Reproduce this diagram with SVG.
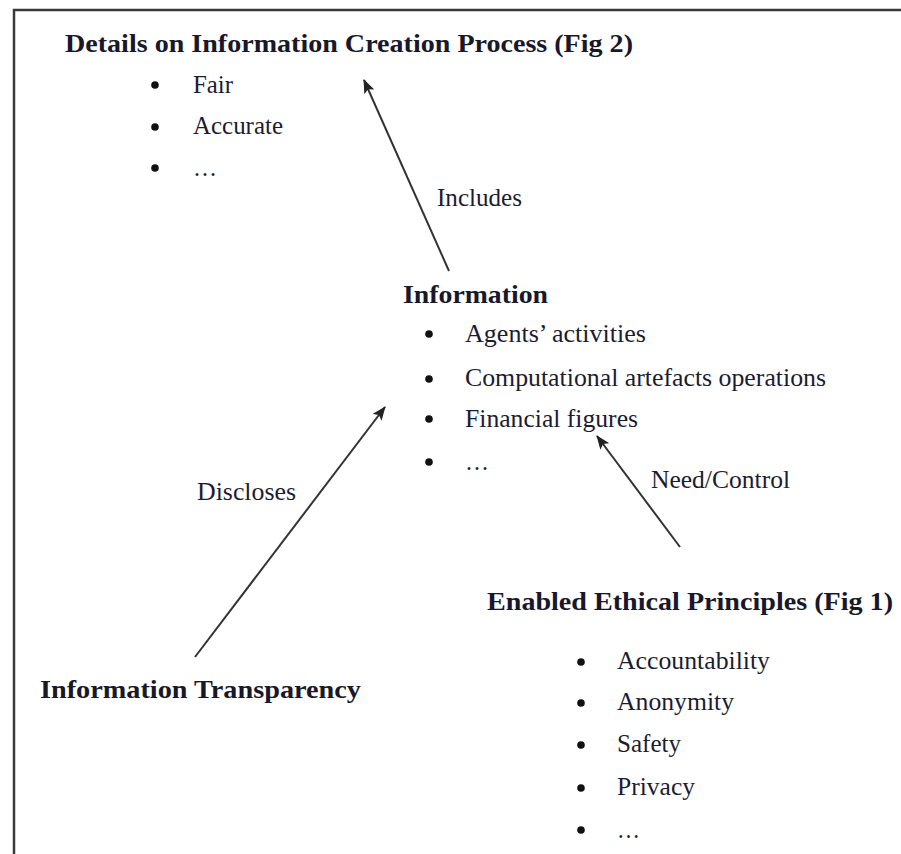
<svg xmlns="http://www.w3.org/2000/svg" width="901" height="854" viewBox="0 0 901 854">
<style>
  .t { font-family: "Liberation Serif", "Times New Roman", serif; font-size: 25px; fill: #1c1c30; }
  .h { font-family: "Liberation Serif", "Times New Roman", serif; font-size: 26px; font-weight: bold; fill: #18182a; }
  .b { fill: #111; }
  .c { stroke: #333; stroke-width: 2; fill: none; marker-end: url(#ah); }
</style>
<defs>
  <marker id="ah" markerUnits="userSpaceOnUse" markerWidth="14" markerHeight="11" refX="13" refY="5.5" orient="auto">
    <path d="M0,0 L14,5.5 L0,11 L3,5.5 z" fill="#222"/>
  </marker>
</defs>
<rect x="0" y="0" width="901" height="854" fill="#fff"/>
<rect x="14" y="10" width="900" height="870" fill="none" stroke="#3a3a3a" stroke-width="2.5"/>

<g id="connectors">
  <line class="c" x1="449" y1="271" x2="364" y2="80"/>
  <line class="c" x1="195" y1="657" x2="385" y2="407"/>
  <line class="c" x1="680" y1="547" x2="597" y2="436"/>
  <text class="t" x="437" y="206" textLength="85" lengthAdjust="spacingAndGlyphs">Includes</text>
  <text class="t" x="197" y="500" textLength="99" lengthAdjust="spacingAndGlyphs">Discloses</text>
  <text class="t" x="651" y="488" textLength="139" lengthAdjust="spacingAndGlyphs">Need/Control</text>
</g>

<g id="details">
  <text class="h" x="65" y="52" textLength="568" lengthAdjust="spacingAndGlyphs">Details on Information Creation Process (Fig 2)</text>
  <circle class="b" cx="155" cy="85" r="3.8"/>
  <circle class="b" cx="155" cy="127" r="3.8"/>
  <circle class="b" cx="155" cy="168" r="3.8"/>
  <text class="t" x="193" y="93" textLength="40" lengthAdjust="spacingAndGlyphs">Fair</text>
  <text class="t" x="193" y="134" textLength="90" lengthAdjust="spacingAndGlyphs">Accurate</text>
  <text class="t" x="193" y="176" textLength="24" lengthAdjust="spacingAndGlyphs">…</text>
</g>

<g id="information">
  <text class="h" x="403" y="303" textLength="145" lengthAdjust="spacingAndGlyphs">Information</text>
  <circle class="b" cx="429" cy="334" r="3.8"/>
  <circle class="b" cx="429" cy="379" r="3.8"/>
  <circle class="b" cx="429" cy="419" r="3.8"/>
  <circle class="b" cx="429" cy="462" r="3.8"/>
  <text class="t" x="465" y="342" textLength="181" lengthAdjust="spacingAndGlyphs">Agents’ activities</text>
  <text class="t" x="465" y="386" textLength="361" lengthAdjust="spacingAndGlyphs">Computational artefacts operations</text>
  <text class="t" x="465" y="427" textLength="173" lengthAdjust="spacingAndGlyphs">Financial figures</text>
  <text class="t" x="465" y="470" textLength="24" lengthAdjust="spacingAndGlyphs">…</text>
</g>

<g id="transparency">
  <text class="h" x="40" y="698" textLength="321" lengthAdjust="spacingAndGlyphs">Information Transparency</text>
</g>

<g id="principles">
  <text class="h" x="487" y="610" textLength="406" lengthAdjust="spacingAndGlyphs">Enabled Ethical Principles (Fig 1)</text>
  <circle class="b" cx="581" cy="662" r="3.8"/>
  <circle class="b" cx="581" cy="703" r="3.8"/>
  <circle class="b" cx="581" cy="745" r="3.8"/>
  <circle class="b" cx="581" cy="788" r="3.8"/>
  <circle class="b" cx="581" cy="830" r="3.8"/>
  <text class="t" x="617" y="669" textLength="153" lengthAdjust="spacingAndGlyphs">Accountability</text>
  <text class="t" x="617" y="710" textLength="117" lengthAdjust="spacingAndGlyphs">Anonymity</text>
  <text class="t" x="617" y="752" textLength="64" lengthAdjust="spacingAndGlyphs">Safety</text>
  <text class="t" x="617" y="795" textLength="78" lengthAdjust="spacingAndGlyphs">Privacy</text>
  <text class="t" x="617" y="838" textLength="23" lengthAdjust="spacingAndGlyphs">…</text>
</g>
</svg>
